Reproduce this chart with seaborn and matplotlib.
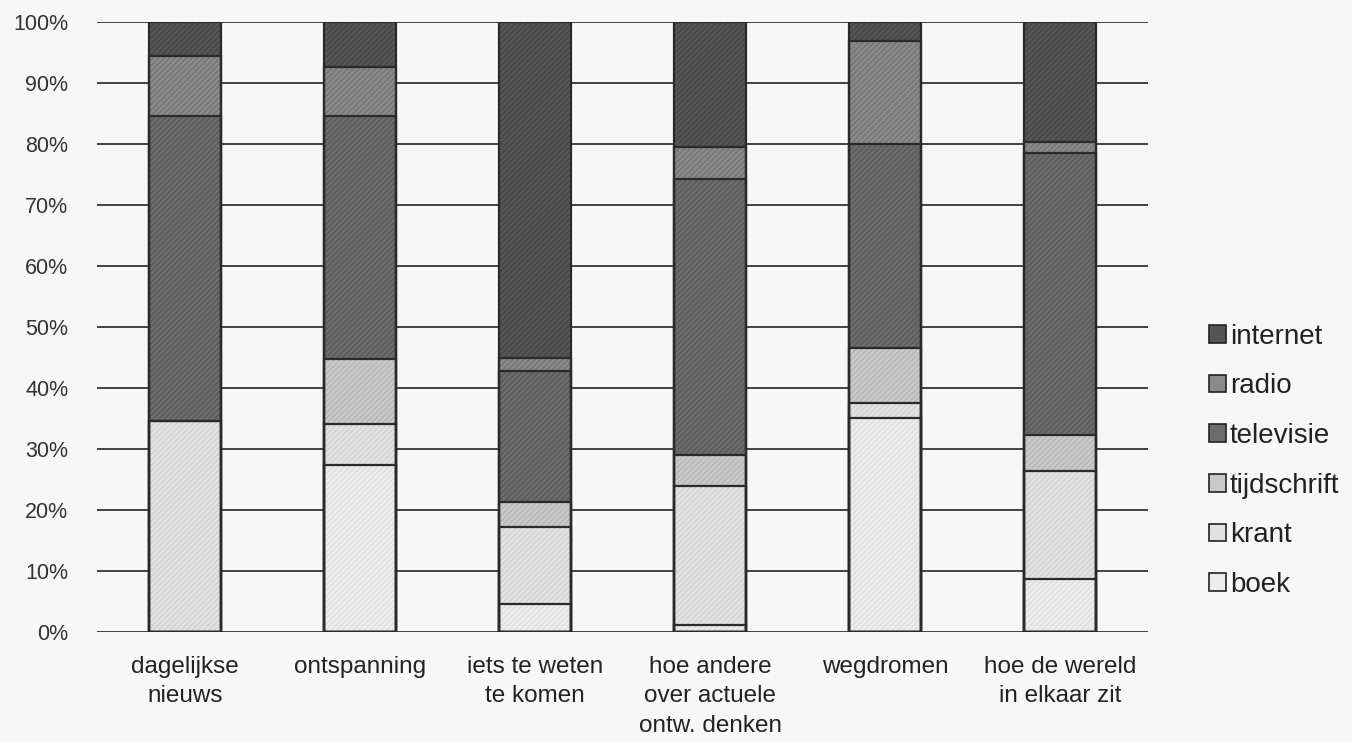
import matplotlib
matplotlib.use("Agg")
import matplotlib.pyplot as plt
import seaborn as sns
import numpy as np
from matplotlib.patches import Patch

categories = ["dagelijkse\nnieuws", "ontspanning", "iets te weten\nte komen",
              "hoe andere\nover actuele\nontw. denken", "wegdromen",
              "hoe de wereld\nin elkaar zit"]
series_names = ["boek", "krant", "tijdschrift", "televisie", "radio", "internet"]
boek = [0.0, 27.4, 4.6, 1.2, 35.2, 8.7]
krant = [34.6, 6.7, 12.7, 22.8, 2.4, 17.7]
tijdschrift = [0.0, 10.7, 4.0, 5.0, 9.1, 6.0]
televisie = [50.0, 39.9, 21.6, 45.3, 33.4, 46.1]
radio = [9.8, 7.9, 2.1, 5.1, 16.9, 1.8]
internet = [5.6, 7.4, 55.0, 20.5, 3.1, 19.7]
ytick_values = [0, 10, 20, 30, 40, 50, 60, 70, 80, 90, 100]
ytick_labels = [f"{v}%" for v in ytick_values]

fills = {"boek": "#ececec", "krant": "#e2e2e2", "tijdschrift": "#c9c9c9",
         "televisie": "#6c6c6c", "radio": "#8a8a8a", "internet": "#555555"}
hatchc = {"boek": "#dcdcdc", "krant": "#cfcfcf", "tijdschrift": "#b2b2b2",
          "televisie": "#565656", "radio": "#6f6f6f", "internet": "#444444"}

sns.set_theme(style="white")
plt.rcParams["font.family"] = ["Liberation Sans", "DejaVu Sans"]
plt.rcParams["hatch.linewidth"] = 0.8

bg = "#f7f7f7"
fig = plt.figure(figsize=(13.52, 7.42), dpi=100, facecolor=bg)
ax = fig.add_axes([0.072, 0.148, 0.777, 0.822])
ax.set_facecolor(bg)

data = np.array([boek, krant, tijdschrift, televisie, radio, internet])
data = data / data.sum(axis=0) * 100
cum = np.cumsum(data, axis=0)

# fills with hatch, top-most cumulative first
for k in range(len(series_names) - 1, -1, -1):
    name = series_names[k]
    sns.barplot(x=categories, y=list(cum[k]), order=categories, color=fills[name],
                saturation=1, width=0.41, edgecolor=hatchc[name], linewidth=0,
                hatch="//////", ax=ax, errorbar=None, zorder=2)
# outlines
for k in range(len(series_names) - 1, -1, -1):
    sns.barplot(x=categories, y=list(cum[k]), order=categories, saturation=1,
                width=0.41, facecolor="none", edgecolor="#2a2a2a", linewidth=1.6,
                ax=ax, errorbar=None, zorder=3)

ax.set_ylim(0, 100)
ax.set_xlim(-0.5, len(categories) - 0.5)
ax.set_yticks(ytick_values)
ax.set_yticklabels(ytick_labels)
ax.yaxis.grid(True, color="#333333", linewidth=1.3, zorder=1)
ax.xaxis.grid(False)
ax.set_axisbelow(True)
for s in ax.spines.values():
    s.set_visible(False)
ax.tick_params(axis="y", length=0, pad=21, labelsize=15.5, labelcolor="#333333")
ax.tick_params(axis="x", length=0, pad=17, labelsize=17.5, labelcolor="#222222")
ax.set_xlabel("")
ax.set_ylabel("")
for lab in ax.get_xticklabels():
    lab.set_linespacing(1.45)

handles = [Patch(facecolor=fills[n], edgecolor="#222222", linewidth=1.2)
           for n in series_names[::-1]]
fig.legend(handles, series_names[::-1], loc="center left",
           bbox_to_anchor=(0.886, 0.379), frameon=False, fontsize=20,
           handlelength=0.6, handleheight=0.6, handletextpad=0.15,
           labelspacing=0.85, labelcolor="#222222", borderaxespad=0)

fig.savefig("out.png", dpi=100, facecolor=bg)
